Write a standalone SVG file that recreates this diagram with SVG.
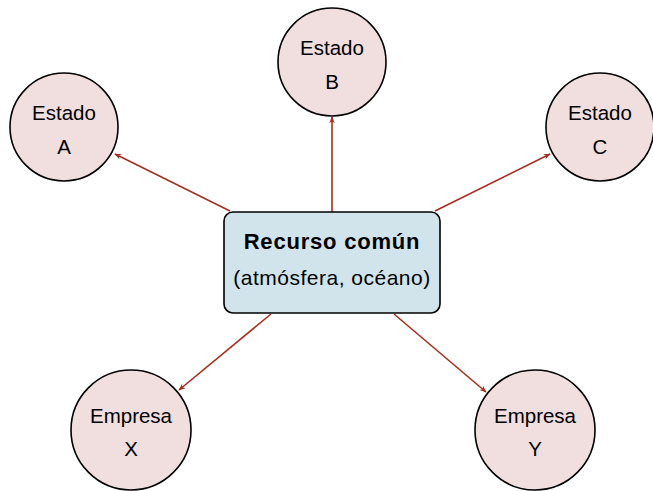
<svg xmlns="http://www.w3.org/2000/svg" width="653" height="491" viewBox="0 0 653 491">
  <defs>
    <style>
      .state { fill: #f1dfdf; stroke: #000; stroke-width: 1.6; }
      .core { fill: #d2e4eb; stroke: #000; stroke-width: 1.6; }
      .lbl { font-family: "Liberation Sans", Arial, sans-serif; font-size: 20.5px; fill: #000; text-anchor: middle; }
      .title { font-family: "Liberation Sans", Arial, sans-serif; font-size: 22px; font-weight: bold; letter-spacing: 0.8px; fill: #000; text-anchor: middle; }
      .sub { font-family: "Liberation Sans", Arial, sans-serif; font-size: 21px; letter-spacing: 0.5px; fill: #000; text-anchor: middle; }
      .edge { stroke: #a3301e; stroke-width: 1.6; fill: none; marker-end: url(#arr); }
    </style>
    <marker id="arr" viewBox="0 0 10 10" refX="9" refY="5" markerWidth="7" markerHeight="7" markerUnits="userSpaceOnUse" orient="auto">
      <path d="M0,1 L10,5 L0,9 L3,5 Z" fill="#a3301e"/>
    </marker>
  </defs>

  <g id="connectors">
    <line class="edge" x1="230" y1="211" x2="115" y2="154"/>
    <line class="edge" x1="332" y1="212" x2="332" y2="117"/>
    <line class="edge" x1="435" y1="211" x2="550" y2="154"/>
    <line class="edge" x1="271" y1="314" x2="179" y2="390"/>
    <line class="edge" x1="394" y1="314" x2="486" y2="392"/>
  </g>

  <g id="estado-a">
    <circle class="state" cx="64" cy="127" r="54"/>
    <text class="lbl" x="64" y="120">Estado</text>
    <text class="lbl" x="64" y="154">A</text>
  </g>
  <g id="estado-b">
    <circle class="state" cx="332" cy="62" r="54"/>
    <text class="lbl" x="332" y="55">Estado</text>
    <text class="lbl" x="332" y="89">B</text>
  </g>
  <g id="estado-c">
    <circle class="state" cx="600" cy="127" r="54"/>
    <text class="lbl" x="600" y="120">Estado</text>
    <text class="lbl" x="600" y="154">C</text>
  </g>
  <g id="empresa-x">
    <circle class="state" cx="131" cy="430" r="60"/>
    <text class="lbl" x="131" y="423">Empresa</text>
    <text class="lbl" x="131" y="456">X</text>
  </g>
  <g id="empresa-y">
    <circle class="state" cx="535" cy="430" r="60"/>
    <text class="lbl" x="535" y="423">Empresa</text>
    <text class="lbl" x="535" y="456">Y</text>
  </g>

  <g id="recurso">
    <rect class="core" x="224" y="212" width="216" height="101" rx="9" ry="9"/>
    <text class="title" x="332" y="249">Recurso común</text>
    <text class="sub" x="332" y="285">(atmósfera, océano)</text>
  </g>
</svg>
